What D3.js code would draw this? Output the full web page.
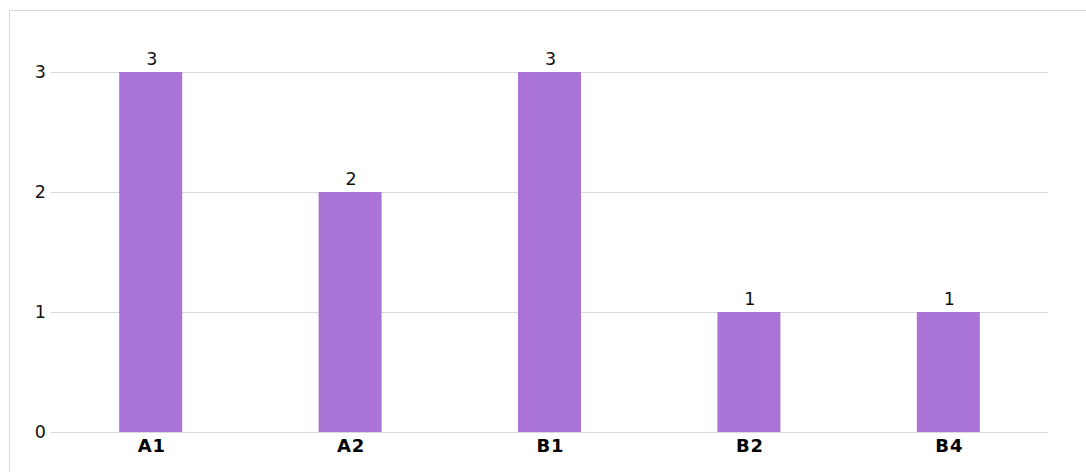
<!DOCTYPE html>
<html><head><meta charset="utf-8">
<script src="https://cdn.jsdelivr.net/npm/d3@7"></script>
<style>body{margin:0;background:#fff;}svg{display:block;}</style>
</head><body>
<svg id="c" width="1086" height="472"></svg>
<script>
const categories = ["A1","A2","B1","B2","B4"];
const values = [3,2,3,1,1];
const yTicks = [0,1,2,3];

const svg = d3.select("#c");
svg.append("rect").attr("x",9.5).attr("y",10.5).attr("width",1100).attr("height",500)
  .attr("fill","#fff").attr("stroke","#d9d9d9").attr("stroke-width",1);

const x = d3.scaleBand().domain(categories).range([51,1048]).paddingInner(0.684).paddingOuter(0.342);
const y = d3.scaleLinear().domain([0,3]).range([432,72]);

const g = svg.append("g");
g.selectAll("line.grid").data(yTicks).enter().append("line")
  .attr("x1",51).attr("x2",1048).attr("y1",d=>Math.round(y(d))+0.5).attr("y2",d=>Math.round(y(d))+0.5)
  .attr("stroke","#d9d9d9").attr("stroke-width",1.2);

g.selectAll("text.yt").data(yTicks).enter().append("text")
  .attr("x",46).attr("y",d=>y(d)+6.3).attr("text-anchor","end")
  .attr("font-family","DejaVu Sans").attr("font-size",17.5).attr("fill","#111").text(d=>d);

g.selectAll("rect.bar").data(values).enter().append("rect")
  .attr("x",(d,i)=>x(categories[i])).attr("width",x.bandwidth())
  .attr("y",d=>y(d)).attr("height",d=>y(0)-y(d)).attr("fill","#a974d6");

g.selectAll("text.lbl").data(values).enter().append("text")
  .attr("x",(d,i)=>x(categories[i])+x.bandwidth()/2+1).attr("y",d=>y(d)-7)
  .attr("text-anchor","middle").attr("font-family","DejaVu Sans").attr("font-size",17.5)
  .attr("fill","#111").text(d=>d);

g.selectAll("text.xt").data(categories).enter().append("text")
  .attr("x",d=>x(d)+x.bandwidth()/2+1).attr("y",452)
  .attr("text-anchor","middle").attr("font-family","DejaVu Sans").attr("font-weight","bold")
  .attr("font-size",18).attr("letter-spacing",0.8).attr("fill","#000").text(d=>d);
</script>
</body></html>
